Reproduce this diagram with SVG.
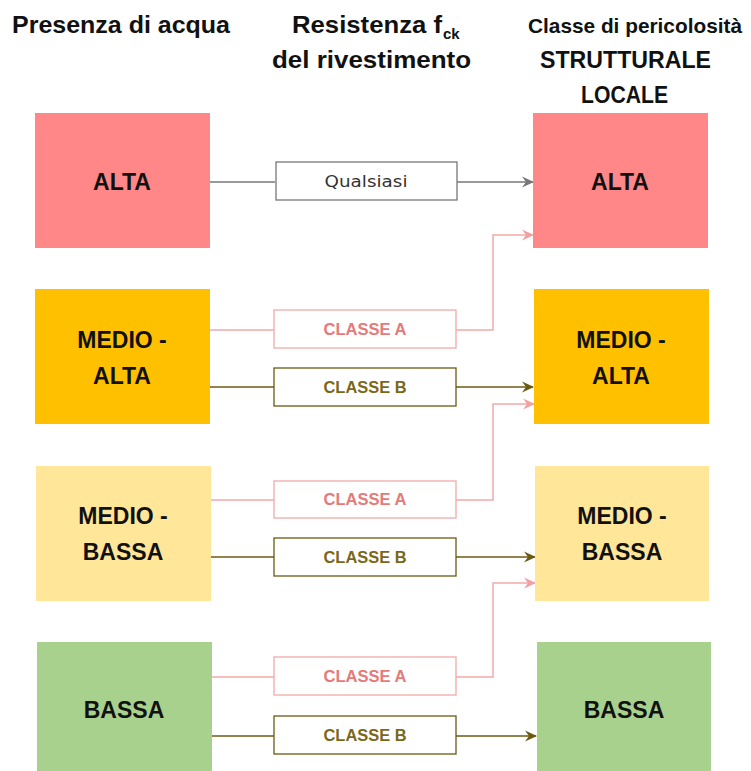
<svg xmlns="http://www.w3.org/2000/svg" width="751" height="771" viewBox="0 0 751 771">
<style>
.hdr{font-family:"Liberation Sans",Arial,sans-serif;font-weight:bold;font-size:24px;fill:#111}
.lbl{font-family:"Liberation Sans",Arial,sans-serif;font-weight:bold;font-size:23px;fill:#111;text-anchor:middle}
.mid{fill:#fff;stroke-width:1.3}
.q{stroke:#777}
.a{stroke:#f2aaaa}
.b{stroke:#6b5a12}
.mt{font-family:"Liberation Sans",Arial,sans-serif;font-weight:bold;font-size:16px;text-anchor:middle}
.qt{font-family:"DejaVu Sans",sans-serif;font-size:15px;fill:#333;text-anchor:middle}
.at{fill:#e57a7a}
.bt{fill:#7a6818}
.ln{fill:none;stroke-width:1.5}
</style>
<defs>
<marker id="mq" viewBox="0 0 12 12" refX="11" refY="6" markerWidth="12" markerHeight="12" markerUnits="userSpaceOnUse" orient="auto"><path d="M0,0.5 L12,6 L0,11.5 L4,6 z" fill="#777"/></marker>
<marker id="ma" viewBox="0 0 12 12" refX="11" refY="6" markerWidth="12" markerHeight="12" markerUnits="userSpaceOnUse" orient="auto"><path d="M0,0.5 L12,6 L0,11.5 L4,6 z" fill="#f2a0a0"/></marker>
<marker id="mb" viewBox="0 0 12 12" refX="11" refY="6" markerWidth="12" markerHeight="12" markerUnits="userSpaceOnUse" orient="auto"><path d="M0,0.5 L12,6 L0,11.5 L4,6 z" fill="#6b5a12"/></marker>
</defs>
<rect width="751" height="771" fill="#fff"/>
<g id="headers">
<text class="hdr" x="12" y="33" textLength="218" lengthAdjust="spacingAndGlyphs">Presenza di acqua</text>
<text class="hdr" x="292" y="33" textLength="150" lengthAdjust="spacingAndGlyphs">Resistenza f</text>
<text class="hdr" x="443" y="39" style="font-size:15px;font-weight:bold">ck</text>
<text class="hdr" x="272" y="68" textLength="199" lengthAdjust="spacingAndGlyphs">del rivestimento</text>
<text class="hdr" x="528" y="33" style="font-size:21px" textLength="214" lengthAdjust="spacingAndGlyphs">Classe di pericolosità</text>
<text class="hdr" x="540" y="68" textLength="171" lengthAdjust="spacingAndGlyphs">STRUTTURALE</text>
<text class="hdr" x="581" y="103" textLength="87" lengthAdjust="spacingAndGlyphs">LOCALE</text>
</g>
<g id="connectors">
<line class="ln q" x1="210" y1="182" x2="275" y2="182"/>
<line class="ln q" x1="457" y1="182" x2="533" y2="182" marker-end="url(#mq)"/>
<line class="ln a" x1="210" y1="330" x2="274" y2="330"/>
<polyline class="ln a" points="456,330 493,330 493,235 533,235" marker-end="url(#ma)"/>
<line class="ln b" x1="210" y1="387" x2="274" y2="387"/>
<line class="ln b" x1="456" y1="387" x2="533" y2="387" marker-end="url(#mb)"/>
<line class="ln a" x1="211" y1="500" x2="274" y2="500"/>
<polyline class="ln a" points="456,500 493,500 493,404 534,404" marker-end="url(#ma)"/>
<line class="ln b" x1="211" y1="557" x2="274" y2="557"/>
<line class="ln b" x1="456" y1="557" x2="535" y2="557" marker-end="url(#mb)"/>
<line class="ln a" x1="212" y1="677" x2="274" y2="677"/>
<polyline class="ln a" points="456,677 493,677 493,583 535,583" marker-end="url(#ma)"/>
<line class="ln b" x1="212" y1="736" x2="274" y2="736"/>
<line class="ln b" x1="456" y1="736" x2="536" y2="736" marker-end="url(#mb)"/>
</g>
<g id="left-alta"><rect x="35" y="113" width="175" height="135" fill="#ff8787"/><text class="lbl" x="122" y="190">ALTA</text></g>
<g id="left-medio-alta"><rect x="35" y="289" width="175" height="135" fill="#ffc000"/><text class="lbl" x="122" y="348">MEDIO -</text><text class="lbl" x="122" y="384">ALTA</text></g>
<g id="left-medio-bassa"><rect x="36" y="466" width="175" height="135" fill="#ffe699"/><text class="lbl" x="123" y="524">MEDIO -</text><text class="lbl" x="123" y="560">BASSA</text></g>
<g id="left-bassa"><rect x="37" y="642" width="175" height="135" fill="#a9d18e"/><text class="lbl" x="124" y="718">BASSA</text></g>
<g id="right-alta"><rect x="533" y="113" width="175" height="135" fill="#ff8787"/><text class="lbl" x="620" y="190">ALTA</text></g>
<g id="right-medio-alta"><rect x="534" y="289" width="175" height="135" fill="#ffc000"/><text class="lbl" x="621" y="348">MEDIO -</text><text class="lbl" x="621" y="384">ALTA</text></g>
<g id="right-medio-bassa"><rect x="535" y="466" width="174" height="135" fill="#ffe699"/><text class="lbl" x="622" y="524">MEDIO -</text><text class="lbl" x="622" y="560">BASSA</text></g>
<g id="right-bassa"><rect x="537" y="642" width="174" height="135" fill="#a9d18e"/><text class="lbl" x="624" y="718">BASSA</text></g>
<g id="mid-qualsiasi"><rect class="mid q" x="276" y="162" width="181" height="38"/><text class="qt" x="366" y="187" textLength="83" lengthAdjust="spacingAndGlyphs">Qualsiasi</text></g>
<g id="mid-a1"><rect class="mid a" x="274" y="310" width="182" height="38"/><text class="mt at" x="365" y="335" textLength="83" lengthAdjust="spacingAndGlyphs">CLASSE A</text></g>
<g id="mid-b1"><rect class="mid b" x="274" y="368" width="182" height="38"/><text class="mt bt" x="365" y="393" textLength="83" lengthAdjust="spacingAndGlyphs">CLASSE B</text></g>
<g id="mid-a2"><rect class="mid a" x="274" y="481" width="182" height="37"/><text class="mt at" x="365" y="505" textLength="83" lengthAdjust="spacingAndGlyphs">CLASSE A</text></g>
<g id="mid-b2"><rect class="mid b" x="274" y="538" width="182" height="38"/><text class="mt bt" x="365" y="563" textLength="83" lengthAdjust="spacingAndGlyphs">CLASSE B</text></g>
<g id="mid-a3"><rect class="mid a" x="274" y="657" width="182" height="38"/><text class="mt at" x="365" y="682" textLength="83" lengthAdjust="spacingAndGlyphs">CLASSE A</text></g>
<g id="mid-b3"><rect class="mid b" x="274" y="716" width="182" height="38"/><text class="mt bt" x="365" y="741" textLength="83" lengthAdjust="spacingAndGlyphs">CLASSE B</text></g>
</svg>
